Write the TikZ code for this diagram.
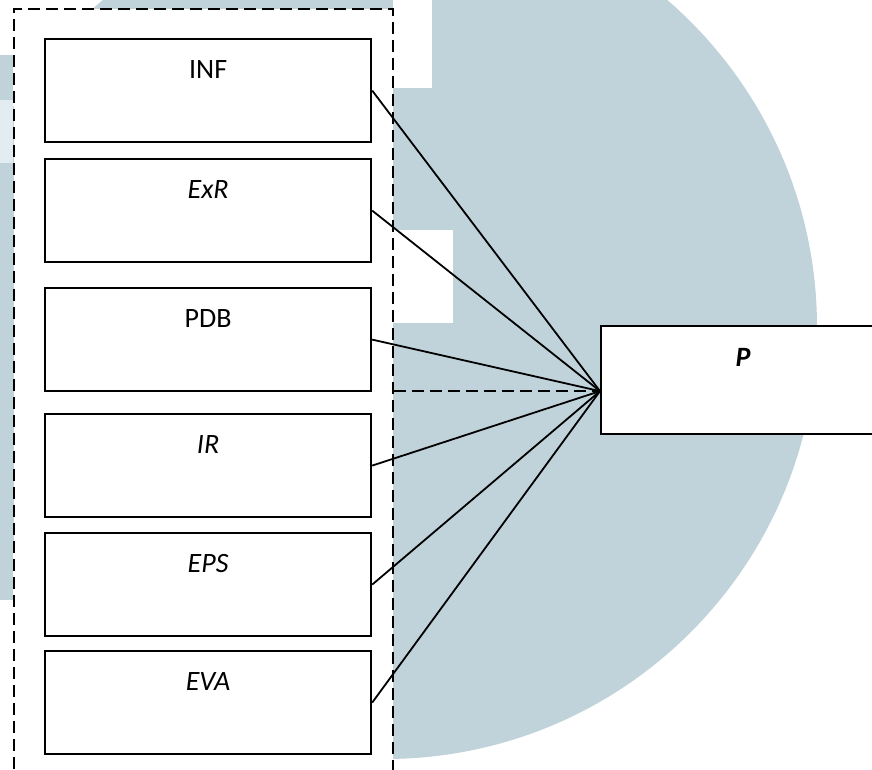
\documentclass[tikz,border=0pt]{standalone}
\usepackage{fontspec}
\setmainfont{Carlito}
\usetikzlibrary{calc}
\definecolor{wmark}{RGB}{193,211,218}
\definecolor{wmarklight}{RGB}{226,236,241}

\begin{document}
\begin{tikzpicture}[x=1pt,y=-1pt,
  every node/.style={inner sep=0pt, font=\fontsize{28}{33}\selectfont},
  frame/.style={draw, fill=white, line width=1.8pt, dash pattern=on 12pt off 6pt,
                anchor=north west, minimum width=379pt, minimum height=780pt},
  frameline/.style={line width=1.8pt, dash pattern=on 12pt off 6pt},
  factor/.style={draw, fill=white, line width=2.2pt, anchor=north west,
                 minimum width=326pt, text height=39pt, text depth=64pt},
  target/.style={draw, fill=white, line width=2.2pt, anchor=north west,
                 minimum width=284pt, text height=40pt, text depth=68pt},
  link/.style={line width=1.8pt}
]
\useasboundingbox (0,0) rectangle (872,769);
\begin{scope}
  \clip (0,0) rectangle (872,769);

  % background emblem
  \fill[wmark] (385,327) circle[radius=432pt];
  \fill[wmark] (0,55) rectangle (13,600);
  \fill[wmarklight] (0,100) rectangle (13,163);
  \fill[white] (393,0) rectangle (432,88);
  \fill[white] (393,230) rectangle (453,323);

  % dashed group frame
  \node[frame] (grp) at (13,8) {};

  % factor boxes
  \node[factor] (inf) at (44,38)  {INF};
  \node[factor] (exr) at (44,158) {\textit{ExR}};
  \node[factor] (pdb) at (44,287) {PDB};
  \node[factor] (ir)  at (44,413) {\textit{IR}};
  \node[factor] (eps) at (44,532) {\textit{EPS}};
  \node[factor] (eva) at (44,650) {\textit{EVA}};

  % outcome box
  \node[target] (p) at (600,325) {\textbf{\textit{P}}};
  \coordinate (hub) at ($(p.north west)!0.6!(p.south west)$);

  % connectors
  \foreach \n in {inf,exr,pdb,ir,eps,eva}
    \draw[link] (\n.east) -- (hub);
  \draw[frameline] (grp.east |- hub) -- (hub);
\end{scope}
\end{tikzpicture}
\end{document}
